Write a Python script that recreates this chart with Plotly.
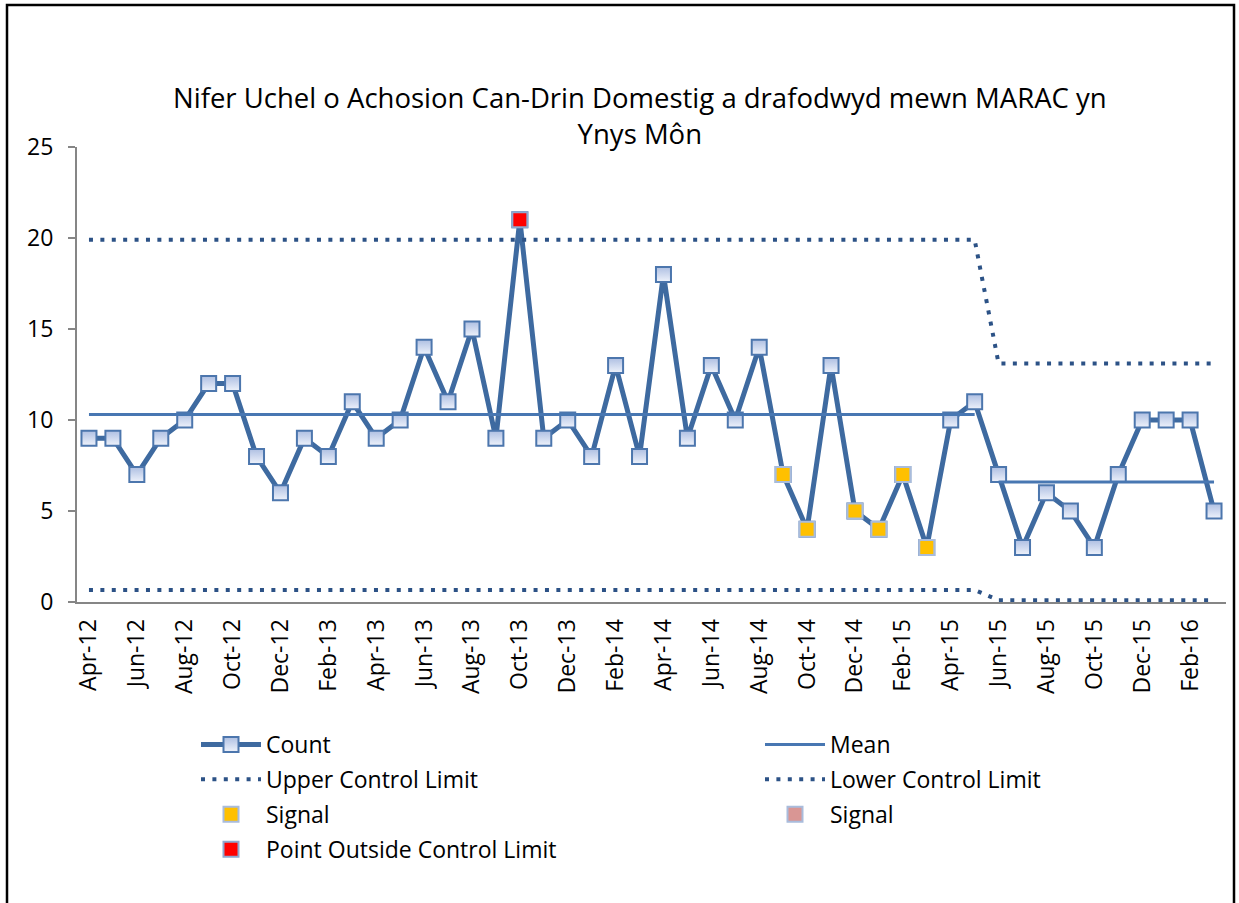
import plotly.graph_objects as go

months = ["Apr-12","May-12","Jun-12","Jul-12","Aug-12","Sep-12","Oct-12","Nov-12","Dec-12","Jan-13","Feb-13","Mar-13",
          "Apr-13","May-13","Jun-13","Jul-13","Aug-13","Sep-13","Oct-13","Nov-13","Dec-13","Jan-14","Feb-14","Mar-14",
          "Apr-14","May-14","Jun-14","Jul-14","Aug-14","Sep-14","Oct-14","Nov-14","Dec-14","Jan-15","Feb-15","Mar-15",
          "Apr-15","May-15","Jun-15","Jul-15","Aug-15","Sep-15","Oct-15","Nov-15","Dec-15","Jan-16","Feb-16","Mar-16"]
count = [9,9,7,9,10,12,12,8,6,9,8,11,
         9,10,14,11,15,9,21,9,10,8,13,8,
         18,9,13,10,14,7,4,13,5,4,7,3,
         10,11,7,3,6,5,3,7,10,10,10,5]
mean1 = [10.3]*38 + [None]*10
mean2 = [None]*38 + [6.6]*10
ucl = [19.9]*38 + [13.1]*10
lcl = [0.66]*38 + [0.1]*10
signal_months = ["Sep-14","Oct-14","Dec-14","Jan-15","Feb-15","Mar-15"]
outside_months = ["Oct-13"]
tick_labels = months[::2]

sig_y = [c if m in signal_months else None for m, c in zip(months, count)]
out_y = [c if m in outside_months else None for m, c in zip(months, count)]

LINE = "#3e6aa0"
DOT = "#2c5286"
MEAN = "#4877b2"
FONT = "Open Sans"
FS = 23

fig = go.Figure()
fig.add_trace(go.Scatter(x=months, y=count, name="Count", mode="lines+markers", legend="legend",
                         legendgroup="a", legendrank=1,
                         line=dict(color=LINE, width=5),
                         marker=dict(symbol="square", size=15, color="#aebfe2",
                                     gradient=dict(type="vertical", color="#eef2fb"),
                                     line=dict(color="#4c76ad", width=2))))
fig.add_trace(go.Scatter(x=months, y=mean1, name="Mean", mode="lines", legend="legend2",
                         legendgroup="b", legendrank=1,
                         line=dict(color=MEAN, width=3)))
fig.add_trace(go.Scatter(x=months, y=ucl, name="Upper Control Limit", mode="lines", legend="legend",
                         legendgroup="c", legendrank=2,
                         line=dict(color=DOT, width=4, dash="4px,7.4px")))
fig.add_trace(go.Scatter(x=months, y=lcl, name="Lower Control Limit", mode="lines", legend="legend2",
                         legendgroup="d", legendrank=2,
                         line=dict(color=DOT, width=4, dash="4px,7.4px")))
fig.add_trace(go.Scatter(x=months, y=sig_y, name="Signal", mode="markers", legend="legend",
                         legendgroup="e", legendrank=3,
                         marker=dict(symbol="square", size=15, color="#ffc000",
                                     line=dict(color="#a9bcdc", width=2))))
fig.add_trace(go.Scatter(x=months, y=[None]*len(months), name="Signal", mode="markers", legend="legend2",
                         legendgroup="f", legendrank=3,
                         marker=dict(symbol="square", size=15, color="#d99694",
                                     line=dict(color="#a9bcdc", width=2))))
fig.add_trace(go.Scatter(x=months, y=out_y, name="Point Outside Control Limit", mode="markers", legend="legend",
                         legendgroup="g", legendrank=4,
                         marker=dict(symbol="square", size=15, color="#ff0000",
                                     line=dict(color="#8fa8d0", width=2))))
fig.add_trace(go.Scatter(x=months, y=mean2, name="Mean", mode="lines", showlegend=False,
                         legendgroup="b",
                         line=dict(color=MEAN, width=3)))

L, R, T, B = 77, 13, 147, 301
W, H = 1239, 903
pw, ph = W - L - R, H - T - B

def px_x(p):
    return (p - L) / pw

def px_y(p):
    return (H - B - p) / ph

fig.add_shape(type="rect", xref="paper", yref="paper",
              x0=px_x(7), x1=px_x(1234), y0=px_y(915), y1=px_y(5),
              line=dict(color="black", width=2.5), fillcolor="rgba(0,0,0,0)", layer="below")

fig.add_annotation(xref="paper", yref="paper", x=px_x(640), y=px_y(115),
                   text="Nifer Uchel o Achosion Can-Drin Domestig a drafodwyd mewn MARAC yn<br>Ynys Môn",
                   showarrow=False, font=dict(family=FONT, size=27.5, color="black"),
                   xanchor="center", yanchor="middle", align="center")

legend_common = dict(orientation="v", xanchor="left", yanchor="top", tracegroupgap=2,
                     font=dict(family=FONT, size=FS, color="black"), itemwidth=60,
                     bgcolor="rgba(0,0,0,0)")

fig.update_layout(
    width=W, height=H,
    margin=dict(l=L, r=R, t=T, b=B, autoexpand=False),
    paper_bgcolor="white", plot_bgcolor="white",
    font=dict(family=FONT, size=FS, color="black"),
    showlegend=True,
    legend=dict(x=px_x(196), y=px_y(723), **legend_common),
    legend2=dict(x=px_x(760), y=px_y(723), **legend_common),
    xaxis=dict(type="category", categoryorder="array", categoryarray=months,
               range=[-0.5, len(months) - 0.5],
               tickmode="array", tickvals=tick_labels, ticktext=tick_labels,
               tickangle=-90, showline=True, linecolor="#868686", linewidth=2,
               ticks="", showgrid=False, zeroline=False, ticklabelstandoff=6,
               tickfont=dict(family=FONT, size=FS, color="black")),
    yaxis=dict(range=[0, 25], dtick=5, tick0=0, showline=True, linecolor="#868686", linewidth=2,
               ticks="outside", ticklen=7, tickcolor="#868686", tickwidth=2,
               showgrid=False, zeroline=False, ticklabelstandoff=10,
               tickfont=dict(family=FONT, size=FS, color="black")),
)

fig.write_html("out.html", config={"displayModeBar": False},
               post_script="document.body.style.margin='0';document.body.style.overflow='hidden';")
